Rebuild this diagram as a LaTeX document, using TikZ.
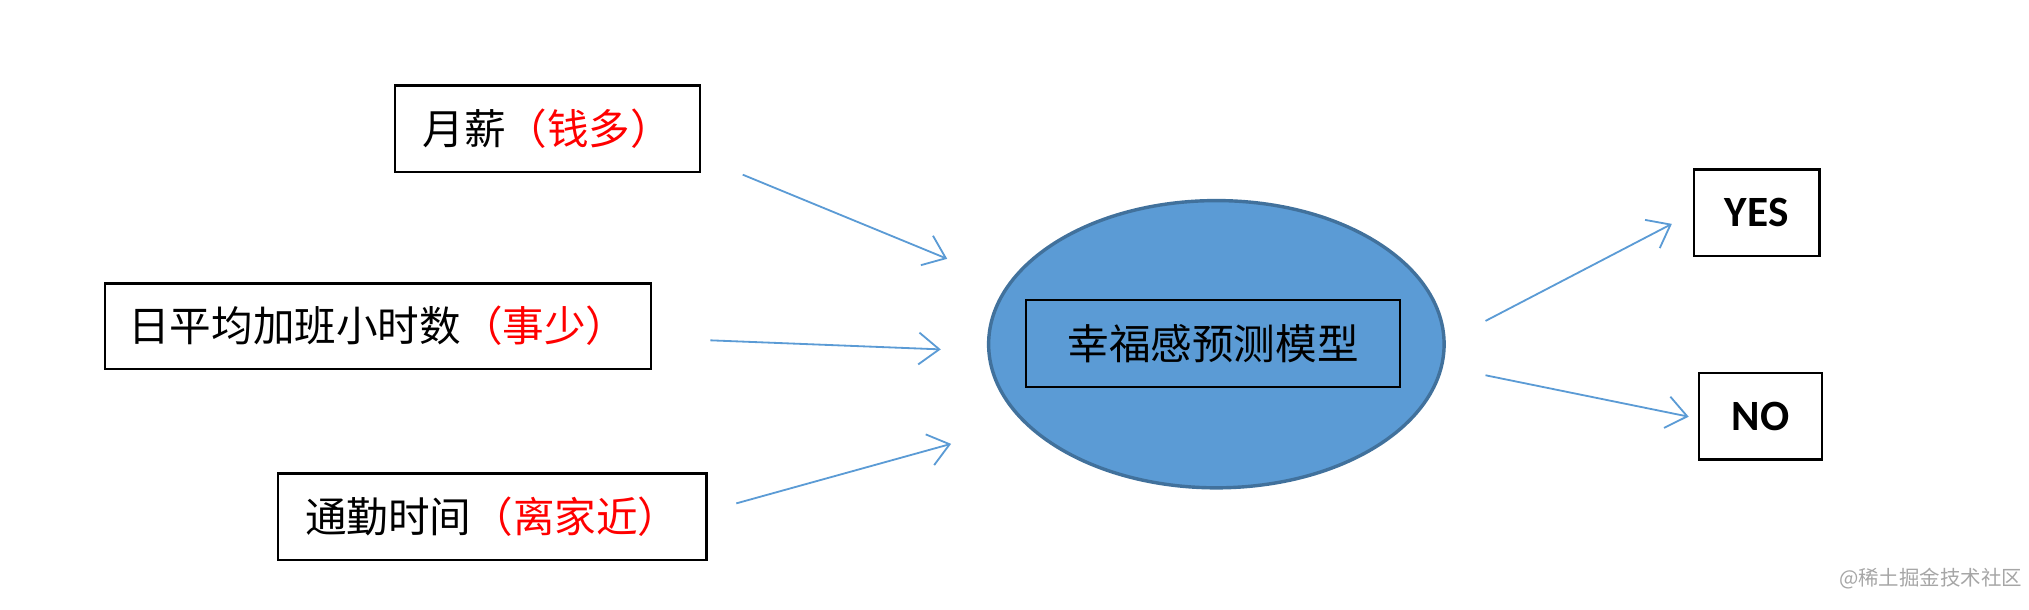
\documentclass[tikz,border=0pt]{standalone}
\usepackage{fontspec}
\setmainfont{Carlito}
\newfontfamily\cjk{Noto Sans CJK SC}
\usetikzlibrary{arrows.meta,shapes.geometric}
\definecolor{bl}{HTML}{5B9BD5}
\definecolor{bld}{HTML}{41719C}
\begin{document}
\begin{tikzpicture}[x=0.02cm,y=-0.02cm,
  box/.style={draw=black,line width=1pt,inner sep=0pt,font=\cjk\fontsize{18.3}{22}\selectfont},
  arr/.style={draw=bl,line width=0.8pt,-{Straight Barb[length=9pt,width=14pt,line width=0.8pt]}}]
\useasboundingbox (0,0) rectangle (1568,471);
\node[box,minimum width=236*0.02cm,minimum height=67*0.02cm] (a) at (423,99.5) {月薪\textcolor{red}{（钱多）}};
\node[box,minimum width=422*0.02cm,minimum height=66*0.02cm] (b) at (292,252) {日平均加班小时数\textcolor{red}{（事少）}};
\node[box,minimum width=331*0.02cm,minimum height=67*0.02cm] (c) at (380.5,399.5) {通勤时间\textcolor{red}{（离家近）}};
\node[draw=bld,line width=1.5pt,fill=bl,ellipse,minimum width=352*0.02cm,minimum height=222*0.02cm,inner sep=0pt] (m) at (940,266) {};
\node[box,minimum width=289*0.02cm,minimum height=67*0.02cm] (mr) at (937.5,265.5) {幸福感预测模型};
\node[box,minimum width=97*0.02cm,minimum height=67*0.02cm,font=\bfseries\fontsize{19}{22}\selectfont] (y) at (1357.5,164.5) {YES};
\node[box,minimum width=95*0.02cm,minimum height=67*0.02cm,font=\bfseries\fontsize{19}{22}\selectfont] (n) at (1360.5,321.5) {NO};
\coordinate (a1) at (574,135); \coordinate (a2) at (732,200);
\coordinate (b1) at (549,263); \coordinate (b2) at (727,270);
\coordinate (c1) at (569,389); \coordinate (c2) at (735,343);
\coordinate (y1) at (1148,248); \coordinate (y2) at (1292,173);
\coordinate (n1) at (1148,290); \coordinate (n2) at (1305,322);
\draw[arr] (a1) -- (a2);
\draw[arr] (b1) -- (b2);
\draw[arr] (c1) -- (c2);
\draw[arr] (y1) -- (y2);
\draw[arr] (n1) -- (n2);
\node[text=gray!70,font=\cjk\fontsize{9}{11}\selectfont] (w) at (1492,447) {@稀土掘金技术社区};
\end{tikzpicture}
\end{document}
